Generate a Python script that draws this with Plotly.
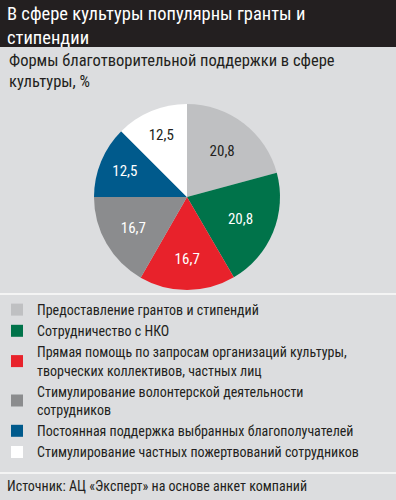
import plotly.graph_objects as go

title_lines = ["В сфере культуры популярны гранты и", "стипендии"]
subtitle_lines = ["Формы благотворительной поддержки в сфере", "культуры, %"]
categories = [
    "Предоставление грантов и стипендий",
    "Сотрудничество с НКО",
    "Прямая помощь по запросам организаций культуры,<br>творческих коллективов, частных лиц",
    "Стимулирование волонтерской деятельности<br>сотрудников",
    "Постоянная поддержка выбранных благополучателей",
    "Стимулирование частных пожертвований сотрудников",
]
values = [20.8, 20.8, 16.7, 16.7, 12.5, 12.5]
colors = ["#bfc0c2", "#00734a", "#e8222b", "#8b8c8e", "#005a8c", "#ffffff"]
text_colors = ["#231f20", "#ffffff", "#ffffff", "#ffffff", "#ffffff", "#231f20"]
source = "Источник: АЦ «Эксперт» на основе анкет компаний"

FONT = "Roboto Condensed, DejaVu Sans Condensed, sans-serif"
BG = "#dcdddf"
W, H = 396, 500

fig = go.Figure(
    go.Pie(
        labels=categories,
        values=values,
        sort=False,
        direction="clockwise",
        rotation=0,
        marker=dict(colors=colors, line=dict(width=0)),
        texttemplate="%{value:.1f}",
        textposition="inside",
        insidetextorientation="horizontal",
        insidetextfont=dict(color=text_colors, size=15, family=FONT),
        domain=dict(x=[94 / W, 280 / W], y=[1 - 290 / H, 1 - 104 / H]),
        hoverinfo="label+value",
    )
)

fig.update_layout(
    width=W,
    height=H,
    margin=dict(l=0, r=0, t=0, b=0, autoexpand=False),
    paper_bgcolor=BG,
    plot_bgcolor=BG,
    separators=", ",
    font=dict(family=FONT, color="#231f20"),
    showlegend=True,
    legend=dict(
        x=-3 / W,
        y=1 - 294 / H,
        xanchor="left",
        yanchor="top",
        bgcolor="rgba(0,0,0,0)",
        font=dict(size=14, family=FONT, color="#231f20"),
        traceorder="normal",
        itemwidth=30,
    ),
    shapes=[
        dict(type="rect", xref="paper", yref="paper", x0=0, x1=1, y0=1 - 47 / H, y1=1,
             fillcolor="#231f20", line=dict(width=0), layer="below"),
        dict(type="line", xref="paper", yref="paper", x0=0, x1=1, y0=1 - 294 / H, y1=1 - 294 / H,
             line=dict(color="#f4f4f4", width=2)),
        dict(type="line", xref="paper", yref="paper", x0=0, x1=1, y0=1 - 473 / H, y1=1 - 473 / H,
             line=dict(color="#f4f4f4", width=2)),
    ],
    annotations=[
        dict(text="<br>".join(title_lines), xref="paper", yref="paper", x=5 / W, y=1 - 1 / H,
             xanchor="left", yanchor="top", align="left", showarrow=False,
             font=dict(size=18.5, color="#ffffff", family=FONT)),
        dict(text="<br>".join(subtitle_lines), xref="paper", yref="paper", x=7 / W, y=1 - 49 / H,
             xanchor="left", yanchor="top", align="left", showarrow=False,
             font=dict(size=16.5, color="#231f20", family=FONT)),
        dict(text=source, xref="paper", yref="paper", x=5 / W, y=1 - 476 / H,
             xanchor="left", yanchor="top", align="left", showarrow=False,
             font=dict(size=14, color="#231f20", family=FONT)),
    ],
)

fig.write_html("out.html", config={"displayModeBar": False},
               post_script="document.body.style.margin='0';")
